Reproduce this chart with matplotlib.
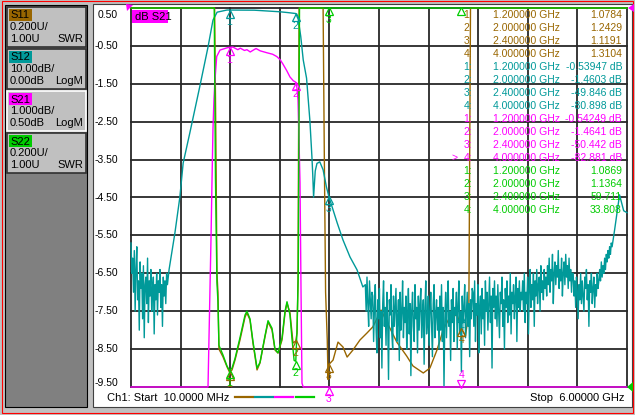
import numpy as np
import matplotlib
matplotlib.use('Agg')
from matplotlib import pyplot as plt
from matplotlib.patches import Rectangle, Polygon
from matplotlib.transforms import Affine2D, offset_copy

W, H = 635, 415

# sweep
f_start, f_stop = 0.01, 6.0  # GHz

# S12 trace, dB (noise floor parts are evenly spaced sweep points, 10 MHz apart)
s12_noise_lo_band = (0.01, 0.45)
s12_noise_lo = [-62, -70, -66, -75, -64, -80, -69, -63, -77, -72,
                -85, -67, -74, -70, -82, -68, -87, -73, -71, -78,
                -66, -83, -72, -76, -69, -80, -74, -71, -86, -73,
                -77, -70, -81, -72, -75, -69, -79, -73, -84, -71,
                -76, -72, -78, -70, -73]
s12_mid_f = [0.47, 0.54, 0.60, 0.64, 0.72, 0.84, 0.94, 1.00, 1.05, 1.17, 1.20, 1.50, 1.81, 1.90,
             1.97, 2.00, 2.03, 2.06, 2.09, 2.13, 2.17, 2.195, 2.205, 2.215, 2.235, 2.256, 2.29,
             2.33, 2.37, 2.40, 2.50, 2.57, 2.655, 2.74, 2.81]
s12_mid = [-69, -59.4, -49.9, -40.9, -33.0, -20.8, -10.3, -3.2, -1.1, -0.53, -0.54, -0.58, -1.0,
           -1.2, -1.4, -1.46, -3.0, -7.5, -13.7, -18.5, -29.6, -39.3, -44.0, -49.9, -43.0, -41.0,
           -40.6, -42.7, -47.2, -49.8, -56.7, -61.2, -65.7, -69.1, -73.6]
s12_noise_hi_band = (2.84, 5.82)
s12_noise_hi = [-73, -80, -71, -78, -84, -72, -77, -82, -75,
                -76, -88, -79, -73, -85, -91, -77, -82, -74, -87,
                -80, -95, -78, -72, -84, -79, -89, -75, -83, -98,
                -77, -81, -73, -86, -90, -76, -84, -79, -74, -88,
                -82, -77, -93, -75, -85, -80, -72, -87, -79, -83,
                -76, -90, -81, -74, -86, -78, -97, -80, -75, -84,
                -88, -73, -82, -79, -91, -76, -85, -78, -74, -87,
                -81, -77, -94, -79, -72, -86, -83, -76, -89, -80,
                -75, -84, -92, -78, -73, -87, -81, -77, -85, -79,
                -90,
                -76, -85, -73, -88, -79, -101, -82, -75, -87, -78,
                -72, -84, -80, -93, -77, -83, -74, -88, -79, -81,
                -75, -90, -78, -72, -86, -80, -96, -76, -83, -79,
                -73, -87, -81, -75, -84, -78, -92, -77, -82, -74,
                -75, -84, -72, -88, -78, -81, -73, -91, -79, -76,
                -86, -74, -82, -77, -89, -72, -80, -75, -85, -78,
                -71, -83, -76, -95, -74, -79, -72, -82, -76, -84,
                -73, -80, -87, -75, -78, -71, -84, -77, -90, -74,
                -79, -72, -83, -76, -81, -70, -86, -75, -78, -73,
                -82, -76, -71, -88, -74, -79, -72, -80, -75, -77,
                -72, -80, -70, -83, -75, -78, -71, -86, -74, -69,
                -79, -73, -77, -70, -84, -72, -76, -69, -78, -73,
                -71, -80, -68, -75, -72, -77, -69, -74, -71, -76,
                -68, -73, -66, -75, -69, -72, -65, -78, -70, -67,
                -73, -68, -71, -64, -74, -69, -72, -66, -76, -70,
                -67, -73, -65, -71, -68, -74, -66, -72, -69, -75,
                -70,
                -70, -76, -72, -79, -71, -75, -82, -73, -77, -70,
                -78, -72, -76, -80, -71, -74, -69, -77, -73, -84,
                -72, -75, -70, -78, -74, -71, -79, -73, -76, -70,
                -74, -72,
                -69, -72, -67, -71, -68, -70, -66, -69, -65, -67,
                -64, -66, -63, -65, -62, -63]
s12_tail_f = [5.85, 5.88, 5.91, 5.93, 5.96, 6.0]
s12_tail = [-58.6, -54.0, -49.3, -51.0, -53.5, -54.0]

# S21 trace, dB
s21_f = [0.01, 0.40, 0.70, 0.85, 0.94, 0.964, 0.976, 0.988, 1.0, 1.012, 1.024, 1.045, 1.085, 1.17,
         1.20, 1.24, 1.30, 1.33, 1.38, 1.41, 1.45, 1.48, 1.52, 1.57, 1.65, 1.72, 1.77, 1.81, 1.845,
         1.89, 1.93, 1.97, 2.00, 2.015, 2.027, 2.039, 2.051, 2.063, 2.075, 2.09, 2.15, 2.21, 2.40,
         3.0, 4.0, 5.0, 6.0]
s21_db = [-72, -73, -32, -20, -9.5, -6.9, -5.6, -4.1, -2.7, -1.9, -1.4, -0.78, -0.61, -0.55,
          -0.54, -0.53, -0.60, -0.56, -0.62, -0.60, -0.66, -0.62, -0.57, -0.63, -0.68, -0.72, -0.78,
          -0.86, -0.98, -1.15, -1.32, -1.42, -1.46, -1.62, -1.93, -2.98, -4.1, -6.9, -9.4, -12,
          -24, -50, -50.4, -80, -82.9, -78, -54]

# S11 trace, SWR
s11_f = [0.01, 1.02, 1.035, 1.048, 1.06, 1.072, 1.12, 1.17, 1.20, 1.23, 1.266, 1.326, 1.387, 1.41,
         1.447, 1.483, 1.532, 1.568, 1.628, 1.665, 1.713, 1.749, 1.785, 1.834, 1.87, 1.894, 1.93,
         1.967, 2.00, 2.015, 2.027, 2.04, 2.33, 2.345, 2.36, 2.38, 2.39, 2.40, 2.45, 2.51, 2.57,
         2.62, 2.69, 2.775, 2.86, 2.93, 2.99, 3.03, 3.10, 3.22, 3.34, 3.415, 3.54, 3.62, 3.705,
         3.78, 3.86, 3.95, 4.00, 4.05, 4.09, 4.11, 6.0]
s11_swr = [5.0, 5.0, 2.3, 1.6, 1.5, 1.2, 1.16, 1.106, 1.078, 1.09, 1.142, 1.248, 1.369, 1.391,
           1.354, 1.232, 1.09, 1.127, 1.264, 1.343, 1.301, 1.195, 1.179, 1.248, 1.391, 1.443,
           1.391, 1.232, 1.243, 1.285, 1.565, 5.0, 5.0, 2.2, 1.5, 1.25, 1.04, 1.119, 1.142, 1.237,
           1.211, 1.158, 1.195, 1.248, 1.285, 1.317, 1.369, 1.406, 1.343, 1.237, 1.163, 1.111,
           1.074, 1.10, 1.195, 1.301, 1.369, 1.38, 1.310, 1.27, 1.40, 5.0, 5.0]

# S22 trace, SWR
s22_f = [0.01, 1.015, 1.03, 1.048, 1.06, 1.072, 1.12, 1.17, 1.20, 1.23, 1.266, 1.326, 1.387, 1.41,
         1.447, 1.483, 1.532, 1.568, 1.628, 1.665, 1.713, 1.749, 1.785, 1.834, 1.87, 1.894, 1.93,
         1.955, 1.98, 2.00, 2.015, 2.03, 2.045, 6.0]
s22_swr = [5.0, 5.0, 2.1, 1.55, 1.45, 1.22, 1.17, 1.11, 1.087, 1.10, 1.15, 1.26, 1.38, 1.40, 1.36,
           1.24, 1.10, 1.13, 1.27, 1.35, 1.31, 1.20, 1.18, 1.26, 1.40, 1.45, 1.38, 1.25, 1.14,
           1.136, 1.30, 1.6, 5.0, 5.0]

# markers
marker_f = [1.2, 2.0, 2.4, 4.0]
s11_mk = [1.0784, 1.2429, 1.1191, 1.3104]
s12_mk = [-0.53947, -1.4603, -49.846, -80.898]
s21_mk = [-0.54249, -1.4641, -50.442, -82.881]
s22_mk = [1.0869, 1.1364, 59.711, 33.808]

# channel setup: name, colour, scale per div, reference value, reference position (div), format
chans = [
    ('S11', '#996600', 0.2, 1.0, 0, 'SWR'),
    ('S12', '#009999', 10.0, 0.0, 10, 'LogM'),
    ('S21', '#ff00ff', 1.0, 0.5, 10, 'LogM'),
    ('S22', '#00cc00', 0.2, 1.0, 0, 'SWR'),
]
chan_text = [('0.200U/', '1.00U'), ('10.00dB/', '0.00dB'), ('1.000dB/', '0.50dB'), ('0.200U/', '1.00U')]


def to_div(v, ch):
    _, _, scale, ref, pos, _ = ch
    return np.clip(pos + (np.asarray(v, float) - ref) / scale, 0, 10)


def _main():
    plt.rcParams['font.family'] = ['Liberation Sans', 'DejaVu Sans']
    fig = plt.figure(figsize=(W / 100, H / 100), dpi=100, facecolor='#c0c0c0')

    # pixel coords, y down from the top
    px = Affine2D().scale(1.0 / W, -1.0 / H).translate(0, 1) + fig.transFigure

    def rect(x, y, w, h, fc, ec='none', lw=0.0, z=-5):
        fig.add_artist(Rectangle((x, y), w, h, facecolor=fc, edgecolor=ec, linewidth=lw,
                                 transform=px, zorder=z))

    def ptext(x, y, s, **kw):
        kw.setdefault('fontsize', 8)
        kw.setdefault('va', 'center')
        fig.text(x, y, s, transform=px, **kw)

    # window frame
    rect(1.5, 1.5, 631, 411, 'none', 'red', 0.8, z=-1)
    rect(5, 5, 82, 402, '#808080', 'black', 0.8)
    rect(93, 4, 539, 403, 'white', '#404040', 0.8)

    # channel boxes on the left
    box_y = [7, 49, 91, 133]
    for i, ch in enumerate(chans):
        y = box_y[i]
        ec = 'white' if ch[0] == 'S21' else '#303030'
        rect(7, y, 79, 40, '#c0c0c0', ec, 1.2, z=-4)
        rect(9, y + 2, 23, 12, ch[1], z=-3)
        ptext(10, y + 8.5, ch[0], color='black')
        ptext(10, y + 20, chan_text[i][0], color='black')
        ptext(10, y + 32, chan_text[i][1], color='black')
        ptext(83, y + 32, ch[5], color='black', ha='right')

    ax = fig.add_axes([131 / W, 1 - 387 / H, 496 / W, 379 / H])
    ax.set_xlim(f_start, f_stop)
    ax.set_ylim(0, 10)
    ax.axis('off')

    # graticule
    step = (f_stop - f_start) / 10
    for i in range(11):
        ax.plot([f_start + i * step] * 2, [0, 10], color='#282828', lw=1.3, clip_on=False, zorder=1)
        ax.plot([f_start, f_stop], [i, i], color='#282828', lw=1.3, clip_on=False, zorder=1)

    # y labels belong to the active trace (S21); top and bottom ones pulled inside
    s21 = chans[2]
    for i in range(11):
        shift = -7 if i == 0 else (4 if i == 10 else 0)
        tr = offset_copy(ax.get_yaxis_transform(), fig=fig, y=shift, units='dots')
        ax.text(-13 / 496, 10 - i, '%.2f' % (s21[3] - i * s21[2]), transform=tr,
                ha='right', va='center', fontsize=7.5)

    # traces
    s12_f = np.concatenate([np.linspace(*s12_noise_lo_band, len(s12_noise_lo)), s12_mid_f,
                            np.linspace(*s12_noise_hi_band, len(s12_noise_hi)), s12_tail_f])
    s12_db = np.concatenate([s12_noise_lo, s12_mid, s12_noise_hi, s12_tail])
    traces = [(s11_f, s11_swr), (s12_f, s12_db), (s21_f, s21_db), (s22_f, s22_swr)]
    for z, (ch, (fx, fy)) in enumerate(zip(chans, traces)):
        ax.plot(fx, to_div(fy, ch), color=ch[1], lw=1.0, clip_on=False, zorder=2 + z)

    # markers
    marks = [s11_mk, s12_mk, s21_mk, s22_mk]
    for ch, mk in zip(chans, marks):
        d = to_div(mk, ch)
        for n, (fm, dm) in enumerate(zip(marker_f, d)):
            active = ch[0] == 'S21' and n == 3
            sgn = 1 if active else -1
            tri = offset_copy(ax.transData, fig=fig, y=sgn * 3.5, units='dots')
            lab = offset_copy(ax.transData, fig=fig, y=sgn * 12, units='dots')
            ax.plot(fm, dm, marker='v' if active else '^', ms=6, mfc='none', mec=ch[1], mew=0.9,
                    transform=tri, clip_on=False, zorder=8)
            if dm >= 10 and fm > 3.5:
                continue  # label would sit under the marker table
            ax.text(fm, dm, str(n + 1), transform=lab, ha='center', va='center', color=ch[1],
                    fontsize=7.5, zorder=8)

    # marker table
    row = 0
    for ch, mk in zip(chans, marks):
        for n, (fm, v) in enumerate(zip(marker_f, mk)):
            y = 15 + 13 * row
            unit = ' dB' if ch[5] == 'LogM' else ''
            if ch[0] == 'S21' and n == 3:
                ptext(455, y, '>', color=ch[1], fontsize=7.5, ha='center')
            ptext(472, y, '%d:' % (n + 1), color=ch[1], fontsize=7.5, ha='right')
            ptext(560, y, '%.6f GHz' % fm, color=ch[1], fontsize=7.5, ha='right')
            ptext(622, y, ('%.5g' % v) + unit, color=ch[1], fontsize=7.5, ha='right')
            row += 1

    # trace title and reference arrows
    rect(132, 10, 36, 13, '#ff00ff', z=6)
    ptext(135, 16.5, 'dB S21', color='black', zorder=7)
    fig.add_artist(Polygon([(126, 4), (133, 5), (127, 11)], closed=True, fc='#ff00ff', ec='none',
                           transform=px, zorder=6))
    fig.add_artist(Polygon([(634, 4), (628, 8), (634, 12)], closed=True, fc='#ff00ff', ec='none',
                           transform=px, zorder=6))
    fig.add_artist(Polygon([(633, 382), (627, 387), (633, 392)], closed=True, fc='#00cc00',
                           ec='none', transform=px, zorder=6))

    # footer
    ptext(107, 398, 'Ch1: Start  10.0000 MHz', color='black')
    ptext(624, 398, 'Stop  6.00000 GHz', color='black', ha='right')
    seg_x = [235, 255, 275, 296]
    for sx, ch in zip(seg_x, chans):
        fig.add_artist(plt.Line2D([sx, sx + 18], [397, 397], color=ch[1], lw=1.6, transform=px))

    fig.savefig('out.png', dpi=100, facecolor=fig.get_facecolor())


if __name__ == '__main__':
    _main()
